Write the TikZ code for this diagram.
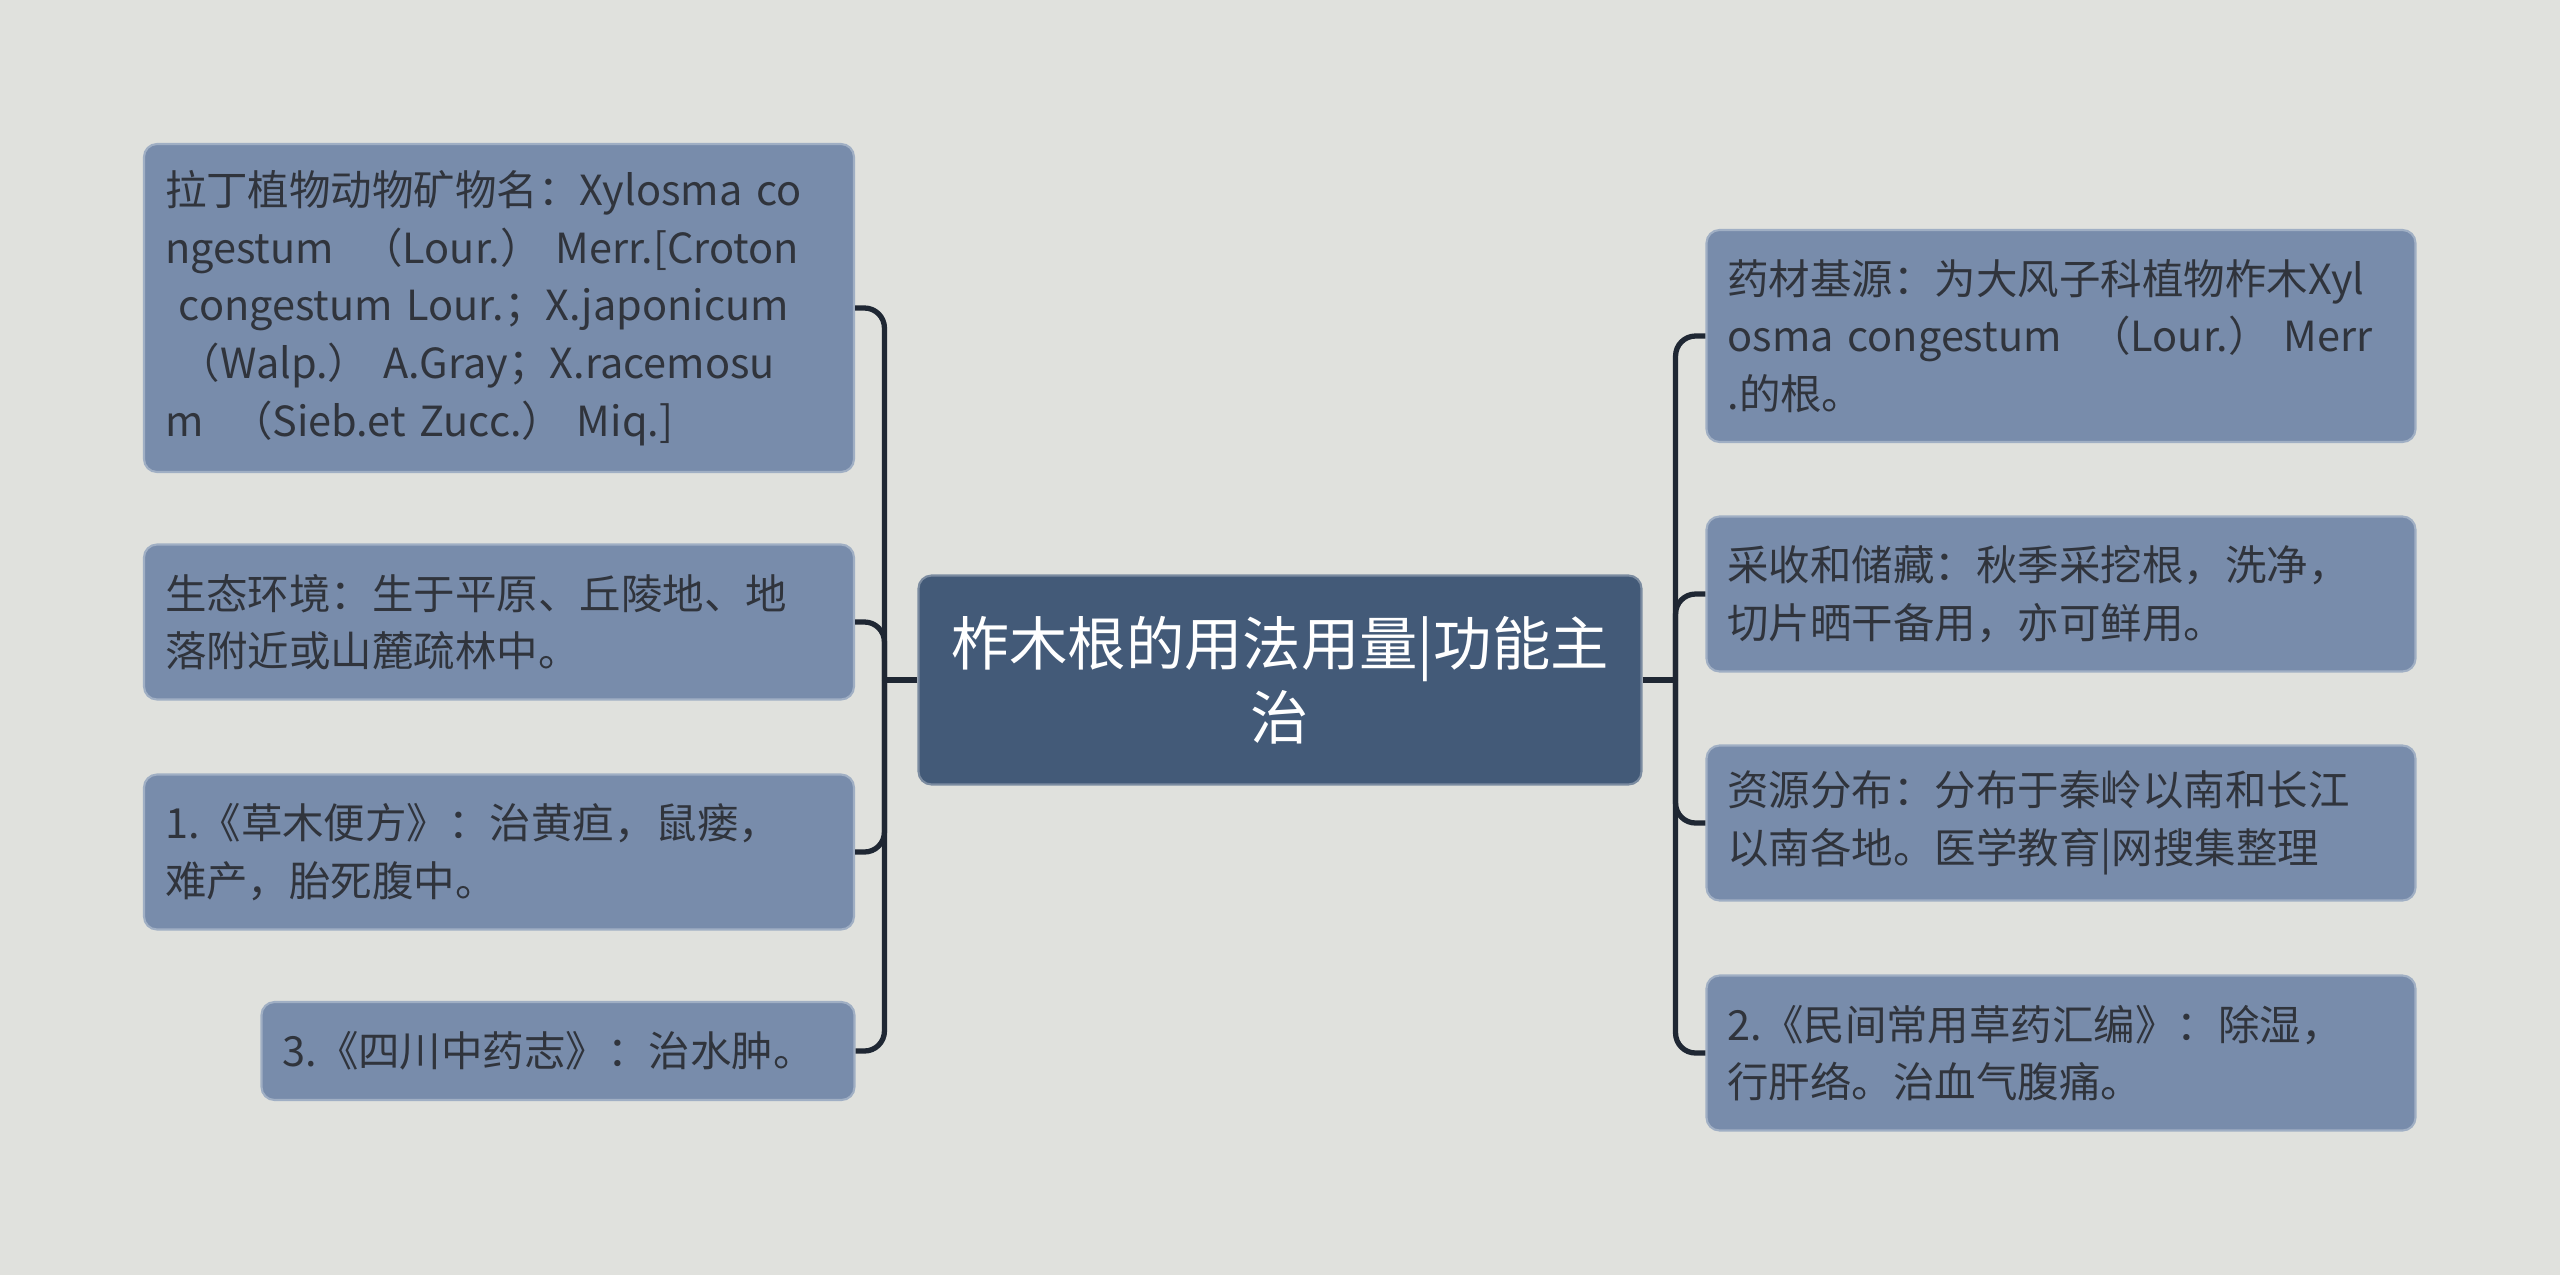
\documentclass[tikz,border=0pt]{standalone}
\usepackage{fontspec}
\setmainfont{Noto Sans CJK SC}
\usepackage{xcolor}
\usetikzlibrary{positioning,calc}
\definecolor{bgcol}{HTML}{E0E1DD}
\definecolor{leafcol}{HTML}{788CAB}
\definecolor{rootcol}{HTML}{435A78}
\definecolor{txtcol}{HTML}{30343C}
\definecolor{linecol}{HTML}{1F2733}
\tikzset{
	leaf/.style={draw=leafcol!70!white, line width=0.6pt, fill=leafcol, rounded corners=0.13cm,
		inner sep=0pt, align=left, text=txtcol,
		font=\fontsize{11.8pt}{16.4pt}\selectfont},
	rootbox/.style={draw=rootcol!70!white, line width=0.6pt, fill=rootcol, rounded corners=0.13cm,
		inner sep=0pt, align=center, text=white,
		font=\fontsize{16.6pt}{21pt}\selectfont},
	conn/.style={draw=linecol, line width=1.5pt, rounded corners=0.2cm},
}

\begin{document}
\begin{tikzpicture}[x=1cm, y=1cm]
	\fill[bgcol] (0,0) rectangle (25.6,-12.75);
	\useasboundingbox (0,0) rectangle (25.6,-12.75);
	% centre
	\node[rootbox, minimum width=7.23cm, minimum height=2.09cm, text width=6.8cm] at (12.80,-6.80) (root) {柞木根的用法用量|功能主\\治};
	\coordinate[left=0.33cm of root.west] (ljoin);
	\coordinate[right=0.33cm of root.east] (rjoin);
	% left side
	\node[leaf, minimum width=7.10cm, minimum height=3.28cm, text width=6.68cm] at (4.99,-3.08) (latin) {拉丁植物动物矿物名：Xylosma co\\ngestum\ \ （Lour.）\ Merr.[Croton\\\ congestum Lour.；X.japonicum\\\ （Walp.）\ A.Gray；X.racemosu\\m\ \ （Sieb.et Zucc.）\ Miq.]};
	\node[leaf, minimum width=7.10cm, minimum height=1.55cm, text width=6.68cm] at (4.99,-6.22) (env) {生态环境：生于平原、丘陵地、地\\落附近或山麓疏林中。};
	\node[leaf, minimum width=7.10cm, minimum height=1.55cm, text width=6.68cm] at (4.99,-8.52) (cmbf) {1.《草木便方》：治黄疸，鼠瘘，\\难产，胎死腹中。};
	\node[leaf, minimum width=5.93cm, minimum height=0.98cm, text width=5.51cm] at (5.58,-10.51) (sczy) {3.《四川中药志》：治水肿。};
	% right side
	\node[leaf, minimum width=7.09cm, minimum height=2.12cm, text width=6.67cm] at (20.61,-3.36) (src) {药材基源：为大风子科植物柞木Xyl\\osma congestum\ \ （Lour.）\ Merr\\.的根。};
	\node[leaf, minimum width=7.09cm, minimum height=1.55cm, text width=6.67cm] at (20.61,-5.94) (harv) {采收和储藏：秋季采挖根，洗净，\\切片晒干备用，亦可鲜用。};
	\node[leaf, minimum width=7.09cm, minimum height=1.55cm, text width=6.67cm] at (20.61,-8.23) (dist) {资源分布：分布于秦岭以南和长江\\以南各地。医学教育|网搜集整理};
	\node[leaf, minimum width=7.09cm, minimum height=1.55cm, text width=6.67cm] at (20.61,-10.53) (mjcy) {2.《民间常用草药汇编》：除湿，\\行肝络。治血气腹痛。};
	% connectors
	\draw[conn] (root.west) -- (ljoin);
	\draw[conn] (root.east) -- (rjoin);
	\foreach \n in {latin,env,cmbf,sczy}
		\draw[conn] (ljoin) |- (\n.east);
	\foreach \n in {src,harv,dist,mjcy}
		\draw[conn] (rjoin) |- (\n.west);
\end{tikzpicture}
\end{document}
